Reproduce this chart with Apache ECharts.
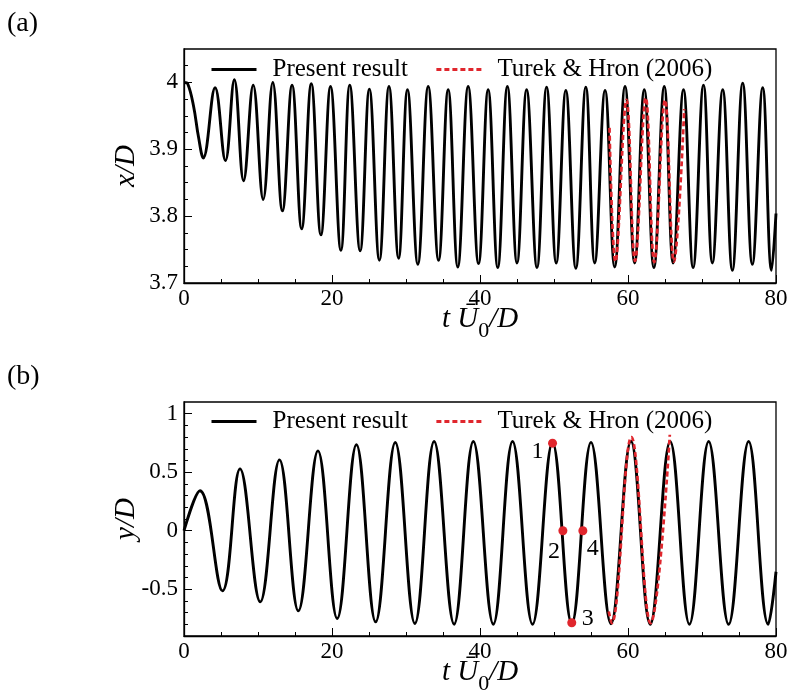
<!DOCTYPE html>
<html><head><meta charset="utf-8">
<script src="https://cdn.jsdelivr.net/npm/echarts@6/dist/echarts.min.js"></script>
<style>html,body{margin:0;padding:0;background:#fff}#c{width:795px;height:700px}</style>
</head><body><div id="c"></div>
<script>
// ---------- Panel (a): x/D versus t U0/D (extrema) ----------
const tA = [0, 0.5, 1.3, 1.95, 2.6, 4.2, 5.6, 6.8, 8.05, 9.35, 10.7, 12.0, 13.3, 14.6, 15.9, 17.2, 18.5, 19.8,
  21.2, 22.4, 23.8, 25.05, 26.4, 27.7, 29.0, 30.2, 31.6, 33.0, 34.4, 35.7, 37.0, 38.4, 39.8, 41.1, 42.4, 43.7,
  45.0, 46.3, 47.7, 49.0, 50.3, 51.6, 52.95, 54.3, 55.5, 56.9, 58.2, 59.6, 60.9, 62.2, 63.5, 64.9, 66.1, 67.5,
  68.8, 70.2, 71.4, 72.8, 74.1, 75.5, 76.8, 78.2, 79.4, 80];
const xA = [4.000, 3.998, 3.964, 3.919, 3.887, 3.992, 3.883, 4.004, 3.853, 3.996, 3.825, 4.000, 3.808, 3.996, 3.781, 3.998, 3.772, 3.994,
  3.749, 3.996, 3.748, 3.990, 3.734, 3.994, 3.737, 3.989, 3.728, 3.994, 3.734, 3.989, 3.724, 3.994, 3.729, 3.989, 3.723, 3.994,
  3.730, 3.989, 3.723, 3.993, 3.730, 3.988, 3.722, 3.993, 3.730, 3.988, 3.724, 3.994, 3.730, 3.989, 3.723, 3.994, 3.730, 3.989,
  3.723, 3.996, 3.730, 3.989, 3.719, 3.999, 3.728, 3.992, 3.719, 3.804];
const tRefA = [57.5, 58.3, 59.8, 60.95, 62.4, 63.55, 65.0, 66.2, 67.6];
const xRefA = [3.932, 3.732, 3.974, 3.733, 3.977, 3.731, 3.974, 3.732, 3.960];

// ---------- Panel (b): y/D versus t U0/D ----------
const tB = [0, 2.16, 5.2, 7.57, 10.3, 12.9, 15.45, 18.1, 20.7, 23.3, 25.9, 28.55, 31.2, 33.8, 36.5, 39.1, 41.8,
  44.4, 47.1, 49.8, 52.4, 55.0, 57.7, 60.4, 63.0, 65.7, 68.3, 70.9, 73.6, 76.3, 78.95, 80];
const yB = [0, 0.342, -0.514, 0.528, -0.608, 0.605, -0.685, 0.682, -0.750, 0.734, -0.779, 0.754, -0.793, 0.762, -0.799, 0.762, -0.799,
  0.762, -0.800, 0.755, -0.795, 0.755, -0.795, 0.765, -0.800, 0.762, -0.800, 0.762, -0.800, 0.762, -0.800, -0.351];
const tRefB = [57.4, 57.8, 60.45, 63.05, 65.65];
const yRefB = [-0.69, -0.79, 0.80, -0.79, 0.82];

// Marked instants 1-4 in panel (b)
const markT = [49.8, 51.2, 52.4, 53.9];
const markY = [0.748, 0.0, -0.787, 0.0];
const markNames = ['1', '2', '3', '4'];

// Axes / ticks
const xTicksInterval = 20;
const yTicksA = [3.7, 3.8, 3.9, 4.0];
const yMinorA = [3.725, 3.75, 3.775, 3.825, 3.85, 3.875, 3.925, 3.95, 3.975, 4.025];
const yTicksB = [-0.5, 0, 0.5, 1];
const yMinorB = [-0.8, -0.7, -0.6, -0.4, -0.3, -0.2, -0.1, 0.1, 0.2, 0.3, 0.4, 0.6, 0.7, 0.8, 0.9];

const seriesNames = ['Present result', 'Turek & Hron (2006)'];
const panelLabels = ['(a)', '(b)'];

// ---------- option ----------
const SERIF = 'Liberation Serif';
const RED = '#e0262d';
const LW = 2.9;
const zip = (a, b) => a.map((v, i) => [v, b[i]]);

const labelPlace = { '1': [-15, 9], '2': [-9, 21], '3': [16, -4], '4': [10, 18] };

function xAxisFor(gi) {
  return {
    type: 'value', gridIndex: gi, min: 0, max: 80, interval: xTicksInterval,
    axisLine: { show: true, onZero: false, lineStyle: { color: '#000', width: 1.3 } },
    axisTick: { show: true, inside: true, length: 8, lineStyle: { color: '#000', width: 1 } },
    minorTick: { show: true, splitNumber: 4, length: 4, lineStyle: { color: '#000', width: 1 } },
    splitLine: { show: false }, minorSplitLine: { show: false },
    axisLabel: { color: '#000', fontFamily: SERIF, fontSize: 23, margin: 4 },
    name: '{i|t }{i|\u016A}{s|0}{i|/D}',
    nameLocation: 'middle', nameGap: 13, nameMoveOverlap: false,
    nameTextStyle: {
      rich: {
        i: { fontFamily: SERIF, fontStyle: 'italic', fontSize: 29, color: '#000' },
        s: { fontFamily: SERIF, fontSize: 22, color: '#000', padding: [24, 0, 0, 0] }
      }
    }
  };
}
function yMain(gi, min, max, ticks, name) {
  return {
    type: 'value', gridIndex: gi, min: min, max: max, position: 'left',
    axisLine: { show: true, onZero: false, lineStyle: { color: '#000', width: 1.3 } },
    axisTick: { show: true, inside: true, length: 8, customValues: ticks, lineStyle: { color: '#000', width: 1 } },
    axisLabel: { color: '#000', fontFamily: SERIF, fontSize: 23, margin: 6, customValues: ticks },
    splitLine: { show: false },
    name: name, nameLocation: 'middle', nameGap: 43, nameRotate: 90, nameMoveOverlap: false,
    nameTextStyle: { fontFamily: SERIF, fontStyle: 'italic', fontSize: 29, color: '#000' }
  };
}
function yMinor(gi, min, max, ticks) {
  return {
    type: 'value', gridIndex: gi, min: min, max: max, position: 'left',
    axisLine: { show: false, onZero: false },
    axisTick: { show: true, inside: true, length: 4, customValues: ticks, lineStyle: { color: '#000', width: 1 } },
    axisLabel: { show: false }, splitLine: { show: false }
  };
}
function legendFor(top) {
  return {
    left: 210, top: top, padding: 0, itemGap: 27, itemWidth: 45, itemHeight: 4,
    data: seriesNames,
    lineStyle: { width: 3 },
    itemStyle: { opacity: 0 },
    textStyle: { fontFamily: SERIF, fontSize: 25, color: '#000', padding: [0, 0, 0, 11] }
  };
}

const option = {
  animation: false,
  backgroundColor: '#fff',
  title: [
    { text: panelLabels[0], left: 7, top: 10, padding: 0, textStyle: { fontFamily: SERIF, fontWeight: 'normal', fontSize: 28, color: '#000' } },
    { text: panelLabels[1], left: 7, top: 363, padding: 0, textStyle: { fontFamily: SERIF, fontWeight: 'normal', fontSize: 28, color: '#000' } }
  ],
  legend: [legendFor(57), legendFor(409)],
  grid: [
    { left: 184, top: 49, width: 592, height: 234, show: true, borderColor: '#000', borderWidth: 1.3, backgroundColor: 'transparent', containLabel: false },
    { left: 184, top: 402, width: 592, height: 234, show: true, borderColor: '#000', borderWidth: 1.3, backgroundColor: 'transparent', containLabel: false }
  ],
  xAxis: [xAxisFor(0), xAxisFor(1)],
  yAxis: [
    yMain(0, 3.7, 4.05, yTicksA, 'x/D'),
    yMinor(0, 3.7, 4.05, yMinorA),
    yMain(1, -0.9, 1.1, yTicksB, 'y/D'),
    yMinor(1, -0.9, 1.1, yMinorB)
  ],
  series: [
    { name: seriesNames[0], type: 'line', xAxisIndex: 0, yAxisIndex: 0, data: zip(tA, xA), smooth: 0.4, symbol: 'none',
      lineStyle: { color: '#000', width: LW }, itemStyle: { color: '#000' }, z: 2 },
    { name: seriesNames[1], type: 'line', xAxisIndex: 0, yAxisIndex: 0, data: zip(tRefA, xRefA), smooth: 0.4, symbol: 'none',
      lineStyle: { color: RED, width: 2.7, type: [5, 3] }, itemStyle: { color: RED }, z: 3 },
    { name: seriesNames[0], type: 'line', xAxisIndex: 1, yAxisIndex: 2, data: zip(tB, yB), smooth: 0.4, symbol: 'none',
      lineStyle: { color: '#000', width: LW }, itemStyle: { color: '#000' }, z: 2 },
    { name: seriesNames[1], type: 'line', xAxisIndex: 1, yAxisIndex: 2, data: zip(tRefB, yRefB), smooth: 0.4, symbol: 'none',
      lineStyle: { color: RED, width: 2.7, type: [5, 3] }, itemStyle: { color: RED }, z: 3 },
    { name: 'points', type: 'scatter', xAxisIndex: 1, yAxisIndex: 2, symbolSize: 9, z: 4,
      itemStyle: { color: RED, opacity: 1 },
      data: markNames.map((n, i) => ({
        name: n, value: [markT[i], markY[i]],
        label: { show: true, formatter: '{b}', position: 'inside', offset: labelPlace[n],
                 fontFamily: SERIF, fontSize: 24, color: '#000', opacity: 1 }
      }))
    }
  ]
};
const chart = echarts.init(document.getElementById('c'), null, { renderer: 'canvas' });
chart.setOption(option);
</script>
</body></html>
